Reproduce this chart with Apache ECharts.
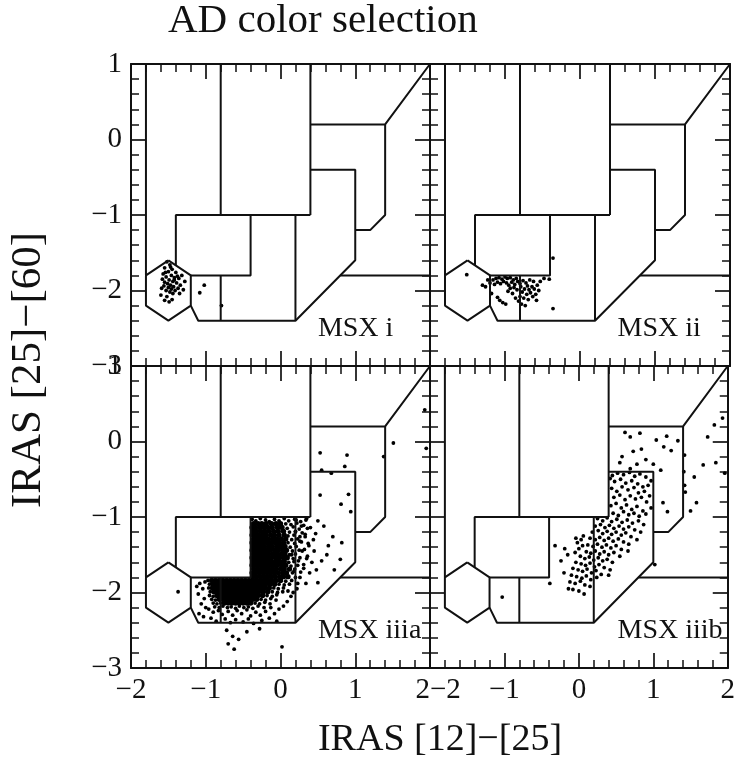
<!DOCTYPE html>
<html>
<head>
<meta charset="utf-8">
<script src="https://cdn.jsdelivr.net/npm/echarts@6/dist/echarts.min.js"></script>
<style>
html,body{margin:0;padding:0;background:#fff;}
#chart{width:738px;height:761px;}
</style>
</head>
<body>
<div id="chart"></div>
<script>
// IRAS two-colour diagram: [12]-[25] vs [25]-[60], four MSX samples.

const xTicks = [-2, -1, 0, 1, 2];
const yTicks = [-3, -2, -1, 0, 1];
const panelNames = ['MSX i', 'MSX ii', 'MSX iiia', 'MSX iiib'];

// Region boundaries of the colour-colour diagram (polylines, data coordinates).
const regionLines = [
  [[-1.8, 1], [-1.8, -1.8]],
  [[-1.5, -1.6], [-1.2, -1.8], [-1.2, -2.2], [-1.5, -2.4], [-1.8, -2.2], [-1.8, -1.8], [-1.5, -1.6]],
  [[-0.8, 1], [-0.8, -1.0]],
  [[0.4, 1], [0.4, -1.0]],
  [[-1.4, -1.667], [-1.4, -1.0], [0.4, -1.0]],
  [[-0.4, -1.0], [-0.4, -1.8], [-1.2, -1.8]],
  [[-1.2, -2.2], [-1.1, -2.4], [0.2, -2.4], [1.0, -1.6], [1.0, -0.4], [0.4, -0.4]],
  [[-0.8, -1.8], [-0.8, -2.4]],
  [[0.2, -1.0], [0.2, -2.4]],
  [[0.4, 0.2], [1.4, 0.2], [2.0, 1.0]],
  [[1.4, 0.2], [1.4, -1.0], [1.2, -1.2], [1.0, -1.2]],
  [[0.8, -1.8], [2.0, -1.8]]
];

// MSX i sources
const msxI = [
  [-1.52,-1.62],[-1.48,-1.66],[-1.55,-1.70],[-1.45,-1.72],[-1.50,-1.75],[-1.40,-1.76],[-1.57,-1.78],
  [-1.46,-1.80],[-1.53,-1.82],[-1.42,-1.83],[-1.36,-1.84],[-1.58,-1.85],[-1.49,-1.86],[-1.44,-1.88],
  [-1.55,-1.89],[-1.51,-1.91],[-1.39,-1.90],[-1.47,-1.93],[-1.56,-1.94],[-1.43,-1.95],[-1.50,-1.96],
  [-1.34,-1.93],[-1.59,-1.97],[-1.46,-1.98],[-1.41,-2.00],[-1.53,-2.00],[-1.37,-1.97],[-1.48,-2.02],
  [-1.30,-1.99],[-1.44,-2.04],[-1.28,-1.88],[-1.32,-1.80],[-1.60,-2.06],[-1.52,-2.08],[-1.45,-2.12],
  [-1.49,-2.15],[-1.55,-2.13],[-1.42,-1.86],[-1.54,-1.76],[-1.38,-1.81],[-1.02,-1.93],[-1.08,-2.03],
  [-0.79,-2.20],[-1.47,-1.69],[-1.35,-2.04]
];

// MSX ii sources
const msxII = [
  [-1.51,-1.79],[-1.30,-1.93],[-1.26,-1.95],[-1.20,-1.90],[-1.16,-1.86],[-1.12,-1.84],[-1.08,-1.83],
  [-1.04,-1.85],[-1.00,-1.82],[-0.97,-1.84],[-0.93,-1.83],[-0.89,-1.86],[-0.85,-1.84],[-1.14,-1.92],
  [-1.10,-1.89],[-1.06,-1.91],[-1.02,-1.88],[-0.98,-1.90],[-0.95,-1.93],[-0.91,-1.89],[-0.87,-1.92],
  [-0.83,-1.88],[-0.80,-1.91],[-0.93,-1.97],[-0.88,-1.96],[-0.84,-1.99],[-0.79,-1.95],[-0.76,-1.87],
  [-0.72,-1.90],[-0.70,-1.94],[-0.74,-1.98],[-0.68,-1.99],[-0.64,-1.95],[-0.61,-1.98],[-0.66,-2.03],
  [-0.71,-2.05],[-0.77,-2.02],[-0.80,-2.08],[-0.75,-2.10],[-0.69,-2.12],[-0.63,-2.08],[-0.59,-2.05],
  [-0.57,-1.93],[-0.62,-1.88],[-0.67,-1.86],[-1.10,-2.09],[-1.07,-2.13],[-1.03,-2.16],[-0.99,-2.18],
  [-1.18,-2.04],[-0.82,-2.14],[-0.78,-2.18],[-0.73,-2.20],[-0.55,-2.00],[-0.41,-1.85],[-0.36,-1.57],
  [-0.36,-2.24],[-0.48,-1.84],[-0.53,-1.88],[-1.23,-1.86],[-0.96,-2.01],[-0.90,-2.04],[-0.86,-2.10],
  [-0.58,-2.13]
];

// MSX iiia: the crowded core, one row per [y, [x, x, ...]]
const msxIIIaCoreRows = [
  [-1.09, [-0.36,-0.30,-0.25,-0.19,-0.12,-0.06,0.00]],
  [-1.14, [-0.38,-0.34,-0.28,-0.22,-0.17,-0.11,-0.04,0.02]],
  [-1.19, [-0.37,-0.32,-0.26,-0.21,-0.15,-0.09,-0.03,0.04]],
  [-1.24, [-0.38,-0.34,-0.29,-0.24,-0.19,-0.13,-0.08,-0.02,0.05]],
  [-1.29, [-0.36,-0.31,-0.26,-0.21,-0.16,-0.10,-0.05,0.01,0.07]],
  [-1.34, [-0.38,-0.33,-0.28,-0.23,-0.18,-0.13,-0.07,-0.02,0.04]],
  [-1.39, [-0.37,-0.32,-0.27,-0.22,-0.16,-0.11,-0.05,0.00,0.06]],
  [-1.44, [-0.38,-0.34,-0.29,-0.24,-0.19,-0.14,-0.08,-0.03,0.03,0.08]],
  [-1.49, [-0.36,-0.31,-0.26,-0.21,-0.16,-0.10,-0.05,0.01,0.06]],
  [-1.54, [-0.38,-0.33,-0.28,-0.23,-0.18,-0.13,-0.07,-0.02,0.04,0.09]],
  [-1.59, [-0.37,-0.32,-0.27,-0.22,-0.17,-0.12,-0.06,-0.01,0.05]],
  [-1.64, [-0.38,-0.34,-0.29,-0.24,-0.19,-0.14,-0.09,-0.04,0.02,0.07]],
  [-1.69, [-0.36,-0.31,-0.26,-0.21,-0.16,-0.11,-0.06,0.00,0.05,0.12]],
  [-1.74, [-0.38,-0.33,-0.28,-0.23,-0.18,-0.13,-0.08,-0.03,0.03,0.08]],
  [-1.79, [-0.37,-0.32,-0.27,-0.22,-0.17,-0.12,-0.07,-0.01,0.04,0.10]],
  [-1.84, [-0.92,-0.87,-0.82,-0.77,-0.72,-0.67,-0.62,-0.57,-0.52,-0.47,-0.42,-0.37,-0.32,-0.27,-0.22,-0.17,-0.12,-0.06,0.00]],
  [-1.89, [-0.90,-0.85,-0.80,-0.75,-0.70,-0.65,-0.60,-0.55,-0.50,-0.45,-0.40,-0.35,-0.30,-0.25,-0.20,-0.14,-0.08]],
  [-1.94, [-0.91,-0.86,-0.81,-0.76,-0.71,-0.66,-0.61,-0.56,-0.51,-0.46,-0.41,-0.36,-0.31,-0.26,-0.21,-0.15]],
  [-1.99, [-0.89,-0.84,-0.79,-0.74,-0.69,-0.64,-0.59,-0.54,-0.49,-0.44,-0.39,-0.34,-0.29,-0.23,-0.17]],
  [-2.04, [-0.85,-0.80,-0.75,-0.70,-0.65,-0.60,-0.55,-0.50,-0.45,-0.40,-0.35,-0.30,-0.24]],
  [-2.09, [-0.82,-0.77,-0.72,-0.67,-0.62,-0.57,-0.52,-0.47,-0.42,-0.37,-0.32]],
  [-2.14, [-0.75,-0.70,-0.65,-0.60,-0.55,-0.50,-0.45,-0.40]]
];

// MSX iiia: sources on the fringe of the core
const msxIIIaEdge = [
  [-0.38,-1.03],[-0.33,-1.05],[-0.27,-1.02],[-0.20,-1.04],[-0.15,-1.06],[-0.08,-1.03],[-0.02,-1.05],
  [0.05,-1.02],[0.11,-1.05],[0.19,-1.03],[0.27,-1.06],[0.34,-1.04],
  [0.07,-1.09],[0.14,-1.10],[0.22,-1.08],[0.31,-1.11],[0.09,-1.15],[0.17,-1.13],[0.25,-1.16],[0.36,-1.15],
  [0.12,-1.20],[0.20,-1.19],[0.29,-1.21],[0.10,-1.25],[0.18,-1.24],[0.26,-1.26],[0.33,-1.23],[0.15,-1.30],
  [0.23,-1.29],[0.10,-1.34],[0.19,-1.35],[0.28,-1.33],[0.37,-1.35],[0.13,-1.40],[0.21,-1.39],[0.16,-1.45],
  [0.25,-1.44],[0.32,-1.43],[0.12,-1.50],[0.20,-1.49],[0.17,-1.55],[0.26,-1.54],[0.35,-1.55],[0.11,-1.60],
  [0.18,-1.59],[0.14,-1.65],[0.23,-1.64],[0.31,-1.63],[0.19,-1.69],[0.16,-1.74],[0.27,-1.73],[0.20,-1.80],
  [0.07,-1.85],[0.15,-1.84],[-0.02,-1.89],[0.05,-1.90],[0.12,-1.89],[-0.09,-1.94],[-0.03,-1.95],[0.04,-1.94],
  [-0.11,-1.99],[-0.04,-2.00],[0.03,-1.99],[-0.18,-2.04],[-0.11,-2.05],[-0.05,-2.03],[-0.26,-2.09],[-0.20,-2.10],
  [-0.13,-2.08],[-0.06,-2.10],[-0.34,-2.14],[-0.28,-2.15],[-0.21,-2.13],[-0.14,-2.15],
  [-0.88,-2.19],[-0.82,-2.20],[-0.77,-2.18],[-0.71,-2.20],[-0.66,-2.19],[-0.60,-2.21],[-0.55,-2.18],
  [-0.49,-2.20],[-0.43,-2.19],[-0.37,-2.21],[-0.30,-2.18],[-0.22,-2.20],
  [-0.97,-1.84],[-0.95,-1.89],[-0.96,-1.94],[-0.94,-1.99],[-0.95,-2.04],[-0.90,-2.05],[-0.92,-2.09],
  [-0.87,-2.10],[-0.90,-2.14],[-0.85,-2.15],[-0.80,-2.14]
];

// MSX iiia: scattered sources further out
const msxIIIaSparse = [
  [-0.96,-2.22],[-0.90,-2.26],[-0.83,-2.24],[-0.78,-2.29],[-0.70,-2.25],[-0.64,-2.30],[-0.58,-2.24],
  [-0.52,-2.28],[-0.45,-2.23],[-0.40,-2.31],[-0.33,-2.26],[-0.27,-2.30],[-0.20,-2.25],[-0.13,-2.20],
  [-0.08,-2.28],[-0.02,-2.22],[0.04,-2.18],[0.09,-2.12],[0.14,-2.05],
  [-0.93,-2.34],[-0.86,-2.38],[-0.74,-2.35],[-0.67,-2.40],[-0.60,-2.36],[-0.50,-2.39],[-0.43,-2.35],
  [-0.36,-2.41],[-0.25,-2.37],[-0.15,-2.34],[-0.05,-2.38],
  [-0.72,-2.50],[-0.64,-2.58],[-0.56,-2.62],[-0.70,-2.68],[-0.62,-2.75],[0.02,-2.72],[-0.45,-2.52],[-0.28,-2.48],
  [-1.08,-1.88],[-1.04,-1.95],[-1.10,-2.02],[-1.02,-2.08],[-1.06,-2.15],[-1.00,-2.20],[-1.12,-1.92],
  [-1.01,-1.86],[-1.09,-2.28],[-1.03,-2.32],
  [0.20,-1.20],[0.26,-1.32],[0.33,-1.26],[0.40,-1.14],[0.38,-1.38],[0.29,-1.45],[0.36,-1.52],[0.42,-1.60],
  [0.24,-1.58],[0.31,-1.68],[0.26,-1.80],[0.34,-1.88],[0.22,-1.95],[0.18,-1.72],[0.15,-1.50],[0.39,-1.74],
  [0.28,-1.12],[0.44,-1.30],[0.21,-1.04],[0.35,-1.02],[0.17,-2.00],[0.10,-1.98],[0.23,-1.88],
  [0.53,-0.15],[0.89,-0.18],[0.55,-0.38],[0.86,-0.33],[0.68,-0.42],[0.53,-0.71],[0.91,-0.70],[0.81,-0.83],
  [0.94,-0.93],[1.51,-0.02],[1.38,-0.20],[1.93,0.42],[1.95,-0.09],[0.82,-1.34],[0.80,-1.56],[0.64,-1.38],
  [0.48,-1.70],[0.50,-1.87],[0.70,-1.26],[-1.37,-1.99],[0.50,-1.05],[0.58,-1.12],[0.47,-1.22],[0.62,-1.50],
  [0.55,-1.58],[0.72,-1.70],[0.45,-1.45]
];

// MSX iiib sources
const msxIIIb = [
  [0.45,-0.45],[0.52,-0.42],[0.60,-0.44],[0.68,-0.41],[0.75,-0.46],[0.82,-0.43],[0.90,-0.47],[0.97,-0.52],
  [0.48,-0.53],[0.56,-0.50],[0.63,-0.55],[0.71,-0.52],[0.79,-0.56],[0.86,-0.60],[0.93,-0.58],
  [0.44,-0.62],[0.51,-0.66],[0.58,-0.60],[0.66,-0.64],[0.74,-0.61],[0.80,-0.68],[0.88,-0.66],[0.95,-0.72],
  [0.47,-0.74],[0.55,-0.71],[0.62,-0.77],[0.69,-0.72],[0.76,-0.76],[0.84,-0.74],[0.91,-0.80],
  [0.43,-0.85],[0.50,-0.82],[0.57,-0.88],[0.64,-0.84],[0.71,-0.90],[0.78,-0.86],[0.86,-0.92],[0.97,-0.88],
  [0.46,-0.95],[0.53,-0.98],[0.60,-0.93],[0.67,-0.97],[0.74,-0.95],[0.81,-0.99],[0.90,-0.96],
  [0.25,-1.02],[0.32,-1.05],[0.38,-1.01],[0.44,-1.06],[0.51,-1.03],[0.58,-1.07],[0.65,-1.04],[0.72,-1.08],
  [0.80,-1.05],[0.87,-1.10],[0.22,-1.12],[0.29,-1.10],[0.35,-1.14],[0.41,-1.11],[0.47,-1.15],[0.54,-1.12],
  [0.60,-1.16],[0.67,-1.13],[0.75,-1.17],[0.83,-1.20],[0.18,-1.20],[0.26,-1.18],[0.32,-1.22],[0.38,-1.19],
  [0.44,-1.23],[0.50,-1.20],[0.57,-1.24],[0.63,-1.21],[0.70,-1.26],[0.78,-1.30],[0.15,-1.28],[0.22,-1.30],
  [0.28,-1.27],[0.34,-1.31],[0.40,-1.28],[0.46,-1.32],[0.53,-1.29],[0.60,-1.33],[0.67,-1.36],[0.12,-1.37],
  [0.19,-1.39],[0.25,-1.36],[0.31,-1.40],[0.37,-1.37],[0.43,-1.41],[0.50,-1.38],[0.57,-1.43],[0.66,-1.45],
  [0.10,-1.46],[0.16,-1.48],[0.22,-1.45],[0.28,-1.49],[0.34,-1.46],[0.40,-1.50],[0.47,-1.47],[0.55,-1.52],
  [0.02,-1.52],[0.08,-1.55],[0.14,-1.53],[0.20,-1.57],[0.26,-1.54],[0.32,-1.58],[0.38,-1.56],[0.45,-1.60],
  [-0.04,-1.60],[0.03,-1.62],[0.09,-1.64],[0.15,-1.61],[0.21,-1.66],[0.27,-1.63],[0.34,-1.67],[0.42,-1.70],
  [-0.08,-1.68],[-0.01,-1.70],[0.05,-1.72],[0.11,-1.69],[0.17,-1.74],[0.23,-1.71],[0.30,-1.76],
  [-0.10,-1.77],[-0.03,-1.79],[0.04,-1.81],[0.10,-1.78],[0.16,-1.83],[0.24,-1.80],
  [-0.12,-1.86],[-0.05,-1.88],[0.02,-1.85],[0.08,-1.90],[0.15,-1.92],
  [-0.08,-1.96],[0.00,-1.98],[0.07,-2.02],[-0.15,-1.50],[-0.19,-1.42],[-0.24,-1.58],[-0.20,-1.74],[-0.14,-1.95],
  [-0.04,-1.28],[-0.02,-1.34],[0.03,-1.30],[0.00,-1.42],[0.05,-1.38],[-0.05,-1.47],[0.06,-1.25],
  [0.69,0.06],[0.82,0.11],[1.04,0.02],[1.18,0.07],[1.33,0.01],[1.14,-0.07],[1.24,-0.12],[0.58,-0.20],
  [0.73,-0.13],[0.84,-0.10],[1.00,-0.30],[0.69,-0.36],[0.42,-0.49],[1.42,-0.18],[1.67,-0.31],[1.73,0.06],
  [1.82,0.22],[1.93,0.31],[1.84,-0.28],[1.96,-0.42],[1.55,-0.47],[1.42,-0.58],[1.58,-0.81],[1.50,-0.92],
  [1.13,-0.81],[1.19,-0.93],[1.02,-1.63],[0.40,-1.77],[-0.32,-1.38],[-0.39,-1.88],[-1.03,-2.06],[0.55,-0.28],
  [0.90,-0.24],[0.62,0.12],[1.10,-0.38],[0.78,-0.30],[1.43,-0.67],[1.41,-0.40]
];

const msxIIIaCore = msxIIIaCoreRows.flatMap(([y, xs]) => xs.map(x => [x, y]));

const chart = echarts.init(document.getElementById('chart'), null, {renderer: 'canvas'});

const grids = [
  {left: 131, top: 64, width: 299, height: 302},
  {left: 430, top: 64, width: 300, height: 302},
  {left: 131, top: 366, width: 299, height: 302},
  {left: 430, top: 366, width: 300, height: 302}
];

// Scatter layers per panel: [data, dot size]
const panelLayers = [
  [[msxI, 3.8]],
  [[msxII, 3.8]],
  [[msxIIIaCore, 5.4], [msxIIIaEdge, 3.8], [msxIIIaSparse, 3.8]],
  [[msxIIIb, 3.8]]
];

const FONT = '"Liberation Serif", "DejaVu Serif", serif';
const fmt = v => String(v).replace('-', '\u2212');

function axis(kind, g, position, showLabel, labelExtra) {
  const ticks = kind === 'x' ? xTicks : yTicks;
  return {
    type: 'value', gridIndex: g, position: position,
    min: ticks[0], max: ticks[ticks.length - 1], interval: 1,
    axisLine: {show: true, onZero: false, lineStyle: {color: '#111', width: 2}},
    axisTick: {show: true, inside: true, length: 15, lineStyle: {color: '#111', width: 1.7}},
    minorTick: {show: true, splitNumber: 5, length: 8, lineStyle: {color: '#111', width: 1.5}},
    splitLine: {show: false},
    axisLabel: Object.assign({show: showLabel, formatter: fmt, color: '#111', fontFamily: FONT, fontSize: 29,
                margin: kind === 'x' ? 8 : 9}, labelExtra || {})
  };
}

const xAxes = [], yAxes = [];
grids.forEach((gr, g) => {
  const bottomRow = g >= 2, leftCol = g % 2 === 0;
  let xLabel = null;
  if (bottomRow) xLabel = leftCol ? {alignMaxLabel: 'right'} : {alignMinLabel: 'left'};
  xAxes.push(axis('x', g, 'bottom', bottomRow, xLabel));
  xAxes.push(axis('x', g, 'top', false));
  yAxes.push(axis('y', g, 'left', leftCol));
  yAxes.push(axis('y', g, 'right', false));
});

const series = [];
grids.forEach((gr, g) => {
  regionLines.forEach(line => {
    series.push({
      type: 'line', xAxisIndex: 2 * g, yAxisIndex: 2 * g, data: line,
      symbol: 'none', silent: true, animation: false,
      lineStyle: {color: '#111', width: 2}
    });
  });
  panelLayers[g].forEach(([pts, size]) => {
    series.push({
      type: 'scatter', xAxisIndex: 2 * g, yAxisIndex: 2 * g, data: pts,
      symbol: 'circle', symbolSize: size, silent: true, animation: false,
      itemStyle: {color: '#000', opacity: 1}
    });
  });
});

// Panel captions anchored at (0.5, -2.5) in data units of each panel.
const captions = panelNames.map((name, g) => {
  const gr = grids[g];
  return {
    type: 'text', silent: true,
    x: gr.left + (0.5 + 2) / 4 * gr.width,
    y: gr.top + (1 + 2.5) / 4 * gr.height,
    style: {text: name, fill: '#111', font: '28px ' + FONT, textAlign: 'left', textVerticalAlign: 'middle'}
  };
});

chart.setOption({
  backgroundColor: '#fff',
  animation: false,
  grid: grids.map(g => Object.assign({containLabel: false}, g)),
  xAxis: xAxes,
  yAxis: yAxes,
  series: series,
  graphic: captions.concat([
    {type: 'text', silent: true, x: 168, y: 21,
     style: {text: 'AD color selection', fill: '#111', font: '41px ' + FONT, textAlign: 'left', textVerticalAlign: 'middle'}},
    {type: 'text', silent: true, x: 440, y: 740,
     style: {text: 'IRAS [12]\u2212[25]', fill: '#111', font: '38px ' + FONT, textAlign: 'center', textVerticalAlign: 'middle'}},
    {type: 'text', silent: true, x: 29, y: 370, rotation: Math.PI / 2,
     style: {text: 'IRAS [25]\u2212[60]', fill: '#111', font: '43px ' + FONT, textAlign: 'center', textVerticalAlign: 'middle'}}
  ])
});
</script>
</body>
</html>
